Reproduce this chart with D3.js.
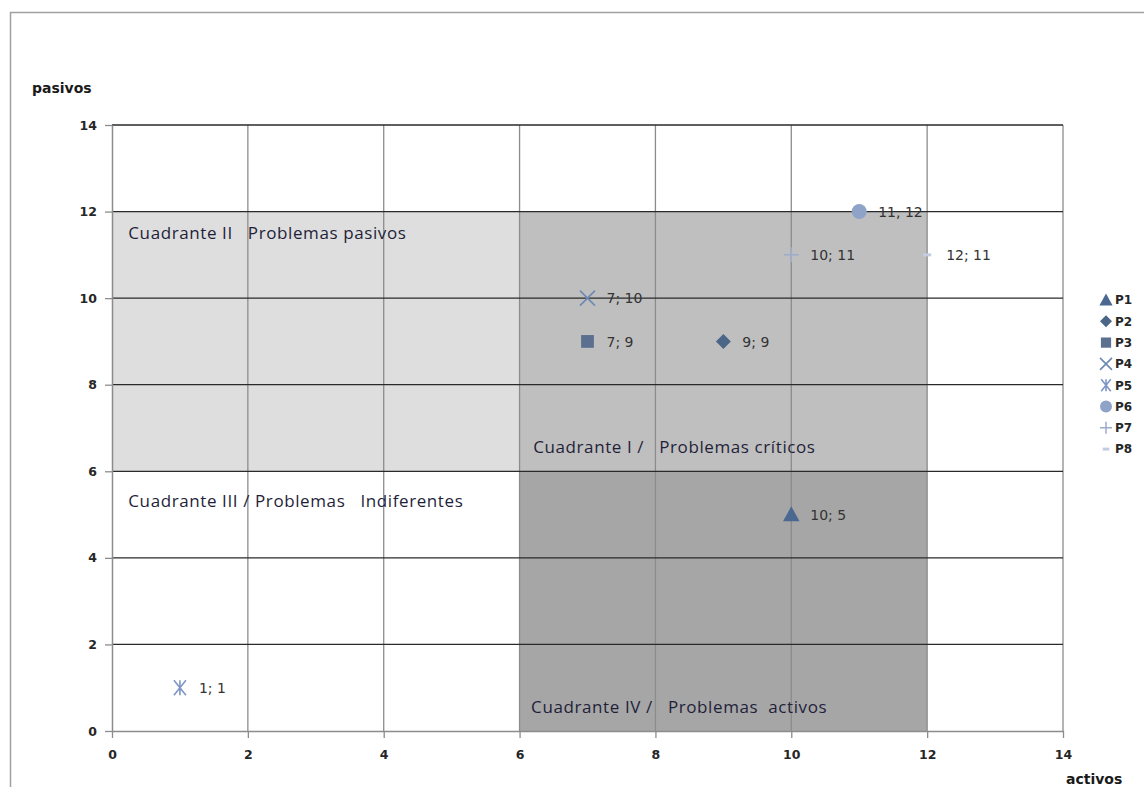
<!DOCTYPE html>
<html>
<head>
<meta charset="utf-8">
<script src="https://cdn.jsdelivr.net/npm/d3@7"></script>
<style>
  html, body { margin: 0; padding: 0; background: #fff; }
  svg { display: block; }
  .tick text { font-family: "DejaVu Sans", Verdana, sans-serif; font-weight: bold; font-size: 12.5px; fill: #262626; }
</style>
</head>
<body>
<svg id="chart" width="1144" height="787"></svg>
<script>
// series: name, x (activos), y (pasivos), marker, colour
const series = ['P1', 'P2', 'P3', 'P4', 'P5', 'P6', 'P7', 'P8'];
const activos = [10, 9, 7, 7, 1, 11, 10, 12];
const pasivos = [5, 9, 9, 10, 1, 12, 11, 11];
const labels = ['10; 5', '9; 9', '7; 9', '7; 10', '1; 1', '11, 12', '10; 11', '12; 11'];
const markers = ['triangle', 'diamond', 'square', 'x', 'asterisk', 'circle', 'plus', 'dash'];
const colors = ['#4a6890', '#4c6688', '#5b6f8e', '#6f89b5', '#7f96c6', '#8fa2c8', '#9caccb', '#c4cde0'];

const xTicks = [0, 2, 4, 6, 8, 10, 12, 14];
const yTicks = [0, 2, 4, 6, 8, 10, 12, 14];

// shaded quadrants (data units) and their captions
const quadX0 = [0, 6, 6];
const quadX1 = [6, 12, 12];
const quadY0 = [6, 6, 0];
const quadY1 = [12, 12, 6];
const quadFill = ['#dedede', '#bfbfbf', '#a6a6a6'];

const captions = ['Cuadrante II   Problemas pasivos', 'Cuadrante I /   Problemas críticos',
                  'Cuadrante III / Problemas   Indiferentes', 'Cuadrante IV /   Problemas  activos'];
const captionX = [0.24, 6.2, 0.24, 6.17];
const captionY = [11.5, 6.55, 5.32, 0.55];

const svg = d3.select('#chart');

// outer chart border
svg.append('path')
  .attr('d', 'M10.5,800 V12.5 H1150')
  .attr('fill', 'none').attr('stroke', '#a0a0a0').attr('stroke-width', 1.5);

const x = d3.scaleLinear().domain([0, 14]).range([112, 1063]);
const y = d3.scaleLinear().domain([0, 14]).range([731, 125]);

// quadrants
svg.append('g').selectAll('rect')
  .data(quadFill)
  .join('rect')
  .attr('x', (d, i) => x(quadX0[i]))
  .attr('y', (d, i) => y(quadY1[i]))
  .attr('width', (d, i) => x(quadX1[i]) - x(quadX0[i]))
  .attr('height', (d, i) => y(quadY0[i]) - y(quadY1[i]))
  .attr('fill', d => d);

// grid
svg.append('g').selectAll('line')
  .data(xTicks.filter(t => t > 0))
  .join('line')
  .attr('x1', d => x(d)).attr('x2', d => x(d))
  .attr('y1', y(14)).attr('y2', y(0))
  .attr('stroke', '#8c8c8c').attr('stroke-width', 1.3);

svg.append('g').selectAll('line')
  .data(yTicks.filter(t => t > 0))
  .join('line')
  .attr('x1', x(0)).attr('x2', x(14))
  .attr('y1', d => y(d)).attr('y2', d => y(d))
  .attr('stroke', '#2a2a2a').attr('stroke-width', 1.3);

// axes
const xAxis = svg.append('g')
  .attr('transform', `translate(0,${y(0)})`)
  .call(d3.axisBottom(x).tickValues(xTicks).tickSize(7).tickPadding(12).tickSizeOuter(0));
const yAxis = svg.append('g')
  .attr('transform', `translate(${x(0)},0)`)
  .call(d3.axisLeft(y).tickValues(yTicks).tickSize(7).tickPadding(8).tickSizeOuter(0));
[xAxis, yAxis].forEach(a => {
  a.select('.domain').attr('stroke', '#8c8c8c').attr('stroke-width', 1.5);
  a.selectAll('.tick line').attr('stroke', '#8c8c8c').attr('stroke-width', 1.3);
});

// axis titles
svg.append('text').text('pasivos')
  .attr('x', 32).attr('y', 93)
  .attr('font-family', 'DejaVu Sans, sans-serif').attr('font-weight', 'bold')
  .attr('font-size', 14).attr('fill', '#1a1a1a');
svg.append('text').text('activos')
  .attr('x', 1066).attr('y', 784)
  .attr('font-family', 'DejaVu Sans, sans-serif').attr('font-weight', 'bold')
  .attr('font-size', 14).attr('fill', '#1a1a1a');

// quadrant captions
svg.append('g').selectAll('text')
  .data(captions)
  .join('text')
  .attr('x', (d, i) => x(captionX[i]))
  .attr('y', (d, i) => y(captionY[i]))
  .attr('dy', '0.35em')
  .attr('font-family', '"Open Sans", Lato, sans-serif')
  .attr('font-size', 17)
  .attr('letter-spacing', 0.6)
  .attr('fill', '#1f1f3a')
  .style('white-space', 'pre')
  .text(d => d);

// marker drawing
function drawMarker(g, type, color, s) {
  const r = s / 2;
  if (type === 'triangle') {
    g.append('path').attr('d', `M0,${-r * 1.1} L${r * 1.1},${r * 0.9} L${-r * 1.1},${r * 0.9} Z`).attr('fill', color);
  } else if (type === 'diamond') {
    g.append('path').attr('d', `M0,${-r} L${r},0 L0,${r} L${-r},0 Z`).attr('fill', color);
  } else if (type === 'square') {
    g.append('rect').attr('x', -r * 0.85).attr('y', -r * 0.85).attr('width', r * 1.7).attr('height', r * 1.7).attr('fill', color);
  } else if (type === 'circle') {
    g.append('circle').attr('r', r).attr('fill', color);
  } else if (type === 'x') {
    g.append('path').attr('d', `M${-r},${-r} L${r},${r} M${r},${-r} L${-r},${r}`).attr('stroke', color).attr('stroke-width', 1.6);
  } else if (type === 'asterisk') {
    g.append('path').attr('d', `M${-r * 0.8},${-r} L${r * 0.8},${r} M${r * 0.8},${-r} L${-r * 0.8},${r} M0,${-r} L0,${r}`).attr('stroke', color).attr('stroke-width', 1.6);
  } else if (type === 'plus') {
    g.append('path').attr('d', `M${-r},0 L${r},0 M0,${-r} L0,${r}`).attr('stroke', color).attr('stroke-width', 1.5);
  } else if (type === 'dash') {
    g.append('rect').attr('x', -r * 0.55).attr('y', -1.5).attr('width', r * 1.1).attr('height', 3).attr('fill', color);
  }
}

// points
const pts = svg.append('g').selectAll('g')
  .data(series)
  .join('g')
  .attr('transform', (d, i) => `translate(${x(activos[i])},${y(pasivos[i])})`);
pts.each(function (d, i) { drawMarker(d3.select(this), markers[i], colors[i], 15); });
pts.append('text')
  .attr('x', 19).attr('dy', '0.38em')
  .attr('font-family', 'DejaVu Sans, Verdana, sans-serif')
  .attr('font-size', 14)
  .attr('fill', '#333')
  .text((d, i) => labels[i]);

// legend
const leg = svg.append('g').selectAll('g')
  .data(series)
  .join('g')
  .attr('transform', (d, i) => `translate(1106,${300 + i * 21.3})`);
leg.each(function (d, i) { drawMarker(d3.select(this), markers[i], colors[i], 12); });
leg.append('text')
  .attr('x', 9).attr('dy', '0.36em')
  .attr('font-family', 'DejaVu Sans, Verdana, sans-serif')
  .attr('font-weight', 'bold')
  .attr('font-size', 12)
  .attr('fill', '#262626')
  .text(d => d);
</script>
</body>
</html>
